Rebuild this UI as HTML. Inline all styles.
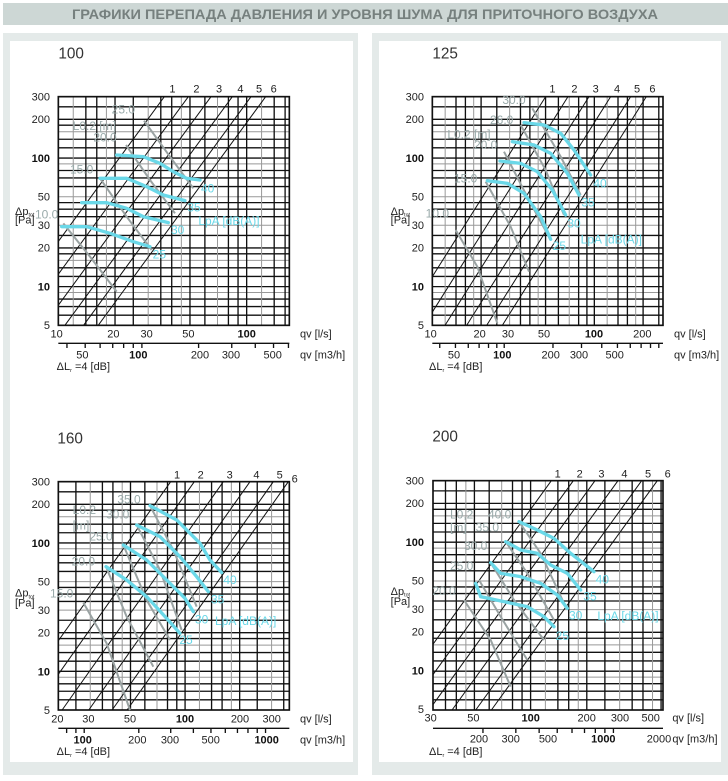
<!DOCTYPE html>
<html><head><meta charset="utf-8"><style>
html,body{margin:0;padding:0;background:#fff;}
svg{display:block;font-family:"Liberation Sans",sans-serif;}
.t{font-size:33px;fill:#222;}
.tb{font-size:33px;fill:#111;font-weight:bold;}
.g{font-size:36px;fill:#9aa;}
.c{font-size:36px;fill:#6ad8e8;}
.h{font-size:46px;fill:#333;}
</style></head><body>
<svg id="s" width="728" height="781" viewBox="0 0 728 781" xmlns="http://www.w3.org/2000/svg">
<rect x="0" y="0" width="728" height="781" fill="#fff"/>
<rect x="3" y="3" width="725" height="22" fill="#cdd7d5"/>
<text x="365" y="19" text-anchor="middle" font-size="14" font-weight="bold" fill="#76807e" textLength="586" lengthAdjust="spacingAndGlyphs">ГРАФИКИ ПЕРЕПАДА ДАВЛЕНИЯ И УРОВНЯ ШУМА ДЛЯ ПРИТОЧНОГО ВОЗДУХА</text>
<rect x="3" y="33" width="355" height="742" fill="#e4eae9"/>
<rect x="10" y="41" width="343" height="721" fill="#fff"/>
<rect x="372" y="33" width="356" height="742" fill="#e4eae9"/>
<rect x="379" y="41" width="342" height="721" fill="#fff"/>

<g id="c1" transform="translate(0,30) scale(0.33333)">
<g class="grid"></g>
<text class="h" x="175" y="85">100</text>
<g class="t">
<text x="508" y="188">1</text><text x="580" y="188">2</text><text x="648" y="188">3</text><text x="712" y="188">4</text><text x="768" y="188">5</text><text x="812" y="188">6</text>
</g>
<g class="t" text-anchor="end">
<text x="150" y="211">300</text><text x="150" y="279">200</text><text class="tb" x="150" y="396">100</text><text x="150" y="512">50</text><text x="150" y="597">30</text><text x="150" y="665">20</text><text class="tb" x="150" y="781">10</text><text x="150" y="897">5</text>
</g>
<g class="t" text-anchor="middle">
<text x="170" y="922">10</text><text x="340" y="922">20</text><text x="440" y="922">30</text><text x="565" y="922">50</text><text class="tb" x="740" y="922">100</text>
<text x="247" y="985">50</text><text class="tb" x="415" y="985">100</text><text x="600" y="985">200</text><text x="693" y="985">300</text><text x="818" y="985">500</text>
</g>
<text class="t" x="900" y="922">qv [l/s]</text><text class="t" x="900" y="985">qv [m3/h]</text>
<text class="t" x="170" y="1020" font-size="28">ΔL<tspan font-size="16" dy="6">r</tspan><tspan dy="-6"> =4 [dB]</tspan></text>
<text class="t" x="45" y="555" font-size="26">Δp<tspan font-size="16" dy="5">tot</tspan></text><text class="t" x="45" y="580">[Pa]</text>
<g class="g"><text x="335" y="250">25.0</text><text x="218" y="300">L0.2 [m]</text><text x="280" y="335">20.0</text><text x="210" y="430">15.0</text><text x="105" y="565">10.0</text></g>
<g class="c"><text x="603" y="488">40</text><text x="562" y="545">35</text><text x="513" y="612">30</text><text x="458" y="685">25</text><text x="595" y="585">LpA [dB(A)]</text></g>
<g fill="none" stroke="#9aa3a3" stroke-width="6">
<polyline points="432,272 510,380 580,475"/><polyline points="378,345 450,450 525,550"/><polyline points="300,445 380,560 455,660"/><polyline points="190,580 270,680 350,785"/>
</g>
<g fill="none" stroke="#6ad8e8" stroke-width="10" stroke-linecap="round">
<polyline points="350,375 430,380 480,400 520,425 560,445 600,450"/>
<polyline points="300,445 380,445 440,470 490,495 555,512"/>
<polyline points="245,518 320,518 380,535 430,560 505,578"/>
<polyline points="185,590 260,590 330,610 400,635 450,650"/>
</g>
</g>

<g id="c2" transform="translate(364,30) scale(0.33333)">
<g class="grid"></g>
<text class="h" x="205" y="85">125</text>
<g class="t">
<text x="556" y="188">1</text><text x="622" y="188">2</text><text x="686" y="188">3</text><text x="750" y="188">4</text><text x="810" y="188">5</text><text x="856" y="188">6</text>
</g>
<g class="t" text-anchor="end">
<text x="180" y="211">300</text><text x="180" y="279">200</text><text class="tb" x="180" y="396">100</text><text x="180" y="512">50</text><text x="180" y="597">30</text><text x="180" y="665">20</text><text class="tb" x="180" y="781">10</text><text x="180" y="897">5</text>
</g>
<g class="t" text-anchor="middle">
<text x="200" y="922">10</text><text x="347" y="922">20</text><text x="432" y="922">30</text><text x="540" y="922">50</text><text class="tb" x="690" y="922">100</text><text x="835" y="922">200</text>
<text x="270" y="985">50</text><text class="tb" x="415" y="985">100</text><text x="560" y="985">200</text><text x="645" y="985">300</text><text x="752" y="985">500</text>
</g>
<text class="t" x="930" y="922">qv [l/s]</text><text class="t" x="930" y="985">qv [m3/h]</text>
<text class="t" x="195" y="1020" font-size="28">ΔL<tspan font-size="16" dy="6">r</tspan><tspan dy="-6"> =4 [dB]</tspan></text>
<text class="t" x="80" y="555" font-size="26">Δp<tspan font-size="16" dy="5">tot</tspan></text><text class="t" x="80" y="580">[Pa]</text>
<g class="g"><text x="415" y="222">30.0</text><text x="378" y="282">26.0</text><text x="250" y="325">L0.2 [m]</text><text x="330" y="357">20.0</text><text x="270" y="457">15.0</text><text x="185" y="562">10.0</text></g>
<g class="c"><text x="688" y="472">40</text><text x="652" y="530">35</text><text x="610" y="592">30</text><text x="566" y="660">25</text><text x="650" y="640">LpA [dB(A)]</text></g>
<g fill="none" stroke="#9aa3a3" stroke-width="6">
<polyline points="505,235 590,380 650,495"/><polyline points="470,285 545,420 600,555"/><polyline points="420,365 500,520 560,630"/><polyline points="365,455 440,590 495,725"/><polyline points="275,600 340,710 400,880"/>
</g>
<g fill="none" stroke="#6ad8e8" stroke-width="10" stroke-linecap="round">
<polyline points="480,278 540,285 590,310 630,360 680,435"/>
<polyline points="445,335 510,345 560,370 610,430 645,495"/>
<polyline points="408,393 470,400 520,425 565,480 605,555"/>
<polyline points="370,452 430,460 480,490 530,560 560,628"/>
</g>
</g>

<g id="c3" transform="translate(0,410) scale(0.33333)">
<g class="grid"></g>
<text class="h" x="172" y="100">160</text>
<g class="t">
<text x="522" y="205">1</text><text x="593" y="205">2</text><text x="680" y="205">3</text><text x="760" y="205">4</text><text x="830" y="205">5</text><text x="875" y="218">6</text>
</g>
<g class="t" text-anchor="end">
<text x="150" y="226">300</text><text x="150" y="294">200</text><text class="tb" x="150" y="411">100</text><text x="150" y="527">50</text><text x="150" y="612">30</text><text x="150" y="680">20</text><text class="tb" x="150" y="796">10</text><text x="150" y="912">5</text>
</g>
<g class="t" text-anchor="middle">
<text x="172" y="937">20</text><text x="265" y="937">30</text><text x="390" y="937">50</text><text class="tb" x="555" y="937">100</text><text x="720" y="937">200</text><text x="815" y="937">300</text>
<text class="tb" x="248" y="1000">100</text><text x="412" y="1000">200</text><text x="510" y="1000">300</text><text x="632" y="1000">500</text><text class="tb" x="800" y="1000">1000</text>
</g>
<text class="t" x="900" y="937">qv [l/s]</text><text class="t" x="900" y="1000">qv [m3/h]</text>
<text class="t" x="170" y="1035" font-size="28">ΔL<tspan font-size="16" dy="6">r</tspan><tspan dy="-6"> =4 [dB]</tspan></text>
<text class="t" x="45" y="560" font-size="26">Δp<tspan font-size="16" dy="5">tot</tspan></text><text class="t" x="45" y="590">[Pa]</text>
<g class="g"><text x="352" y="280">35.0</text><text x="218" y="312">L0.2</text><text x="218" y="358">[m]</text><text x="318" y="325">30.0</text><text x="268" y="392">25.0</text><text x="215" y="467">20.0</text><text x="150" y="562">15.0</text></g>
<g class="c"><text x="670" y="522">40</text><text x="633" y="580">35</text><text x="585" y="640">30</text><text x="538" y="702">25</text><text x="645" y="645">LpA [dB(A)]</text></g>
<g fill="none" stroke="#9aa3a3" stroke-width="6">
<polyline points="450,287 520,420 590,590"/><polyline points="410,345 480,480 545,660"/><polyline points="370,405 440,570 510,690"/><polyline points="318,470 380,620 460,770"/><polyline points="250,578 320,700 390,900"/>
</g>
<g fill="none" stroke="#6ad8e8" stroke-width="10" stroke-linecap="round">
<polyline points="450,287 530,330 600,400 630,450 665,488"/>
<polyline points="410,345 480,380 540,440 590,500 625,545"/>
<polyline points="370,405 440,450 500,510 555,565 580,605"/>
<polyline points="318,470 380,510 440,560 500,625 540,670"/>
</g>
</g>

<g id="c4" transform="translate(364,410) scale(0.33333)">
<g class="grid"></g>
<text class="h" x="205" y="95">200</text>
<g class="t">
<text x="572" y="203">1</text><text x="638" y="203">2</text><text x="703" y="203">3</text><text x="772" y="203">4</text><text x="843" y="203">5</text><text x="902" y="203">6</text>
</g>
<g class="t" text-anchor="end">
<text x="180" y="223">300</text><text x="180" y="291">200</text><text class="tb" x="180" y="408">100</text><text x="180" y="524">50</text><text x="180" y="609">30</text><text x="180" y="677">20</text><text class="tb" x="180" y="793">10</text><text x="180" y="909">5</text>
</g>
<g class="t" text-anchor="middle">
<text x="200" y="935">30</text><text x="328" y="935">50</text><text class="tb" x="500" y="935">100</text><text x="668" y="935">200</text><text x="768" y="935">300</text><text x="860" y="935">500</text>
<text x="345" y="998">200</text><text x="440" y="998">300</text><text x="552" y="998">500</text><text class="tb" x="718" y="998">1000</text><text x="885" y="998">2000</text>
</g>
<text class="t" x="925" y="935">qv [l/s]</text><text class="t" x="925" y="998">qv [m3/h]</text>
<text class="t" x="195" y="1035" font-size="28">ΔL<tspan font-size="16" dy="6">r</tspan><tspan dy="-6"> =4 [dB]</tspan></text>
<text class="t" x="80" y="555" font-size="26">Δp<tspan font-size="16" dy="5">tot</tspan></text><text class="t" x="80" y="585">[Pa]</text>
<g class="g"><text x="258" y="325">L0,2</text><text x="258" y="365">[m]</text><text x="372" y="325">40.0</text><text x="335" y="365">35.0</text><text x="300" y="420">30.0</text><text x="258" y="480">25.0</text><text x="205" y="555">20.0</text></g>
<g class="c"><text x="695" y="520">40</text><text x="658" y="572">35</text><text x="615" y="628">30</text><text x="575" y="690">25</text><text x="700" y="630">LpA [dB(A)]</text></g>
<g fill="none" stroke="#9aa3a3" stroke-width="6">
<polyline points="465,335 530,430 600,580"/><polyline points="425,395 490,490 570,630"/><polyline points="380,458 450,570 540,690"/><polyline points="345,510 410,620 490,750"/><polyline points="300,570 380,690 440,830"/>
</g>
<g fill="none" stroke="#6ad8e8" stroke-width="10" stroke-linecap="round">
<polyline points="465,335 520,360 570,385 620,430 690,485"/>
<polyline points="425,395 470,420 520,430 560,465 610,490 650,540"/>
<polyline points="380,458 410,490 470,500 530,520 580,555 610,595"/>
<polyline points="335,520 350,560 420,575 490,590 540,620 570,650"/>
</g>
</g>
</svg>
<script>
(function(){
var NS="http://www.w3.org/2000/svg";
function L(g,x1,y1,x2,y2,c,w){var l=document.createElementNS(NS,"line");l.setAttribute("x1",x1);l.setAttribute("y1",y1);l.setAttribute("x2",x2);l.setAttribute("y2",y2);l.setAttribute("stroke",c);l.setAttribute("stroke-width",w);g.appendChild(l);}
var charts=[
{id:"c1",x0:175,x1:868,y0:200,y1:886,xv:10,xd:565,tops:[493,565,633,697,753,797],ma:940},
{id:"c2",x0:205,x1:897,y0:200,y1:886,xv:10,xd:486,tops:[545,612,675,740,800,847],ma:940},
{id:"c3",x0:175,x1:868,y0:215,y1:900,xv:20,xd:544,tops:[512,583,670,750,820,865],ma:955},
{id:"c4",x0:207,x1:897,y0:212,y1:900,xv:30,xd:560,tops:[562,628,693,762,833,880],ma:955}];
var hv=[6,7,8,9,10,12,14,16,18,20,25,30,35,40,45,50,60,70,80,90,100,120,140,160,180,200,250];
var man=[1,1.2,1.4,1.6,1.8,2,2.5,3,3.5,4,4.5,5,6,7,8,9];
charts.forEach(function(P){
 var root=document.getElementById(P.id),g=root.querySelector(".grid");
 var yd=(P.y1-P.y0)/Math.log10(60);
 function ly(v){return P.y1-Math.log10(v/5)*yd;}
 function lx(v){return P.x0+Math.log10(v/P.xv)*P.xd;}
 hv.forEach(function(v,i){var y=ly(v);L(g,P.x0,y,P.x1,y,(i%4==3)?"#999":"#111",(i%4==3)?3:4);});
 [1,10,100].forEach(function(d){man.forEach(function(m,i){var v=m*d,x=lx(v);if(x>P.x0+3&&x<P.x1-3)L(g,x,P.y0,x,P.y1,(i%3==1)?"#999":"#111",(i%3==1)?3:4);});});
 var r=document.createElementNS(NS,"rect");r.setAttribute("x",P.x0);r.setAttribute("y",P.y0);r.setAttribute("width",P.x1-P.x0);r.setAttribute("height",P.y1-P.y0);r.setAttribute("fill","none");r.setAttribute("stroke","#111");r.setAttribute("stroke-width",5);g.appendChild(r);
 var s=2*yd/P.xd;
 P.tops.forEach(function(xt){var xe=P.x0,ye=P.y0+(xt-P.x0)*s;if(ye>P.y1){ye=P.y1;xe=xt-(P.y1-P.y0)/s;}
   var xs=xt,ys=P.y0;if(xt>P.x1){ys=P.y0+(xt-P.x1)*s;xs=P.x1;}L(g,xs,ys,xe,ye,"#111",3);});
 L(g,P.x0,P.ma,P.x1,P.ma,"#111",4);
 [10,100,1000].forEach(function(d){[1,2,3,4,5,6,7,8,9].forEach(function(m){var x=lx(m*d/3.6);if(x>=P.x0&&x<=P.x1)L(g,x,P.ma,x,P.ma+14,"#111",4);});});
});
})();
</script>
</body></html>
